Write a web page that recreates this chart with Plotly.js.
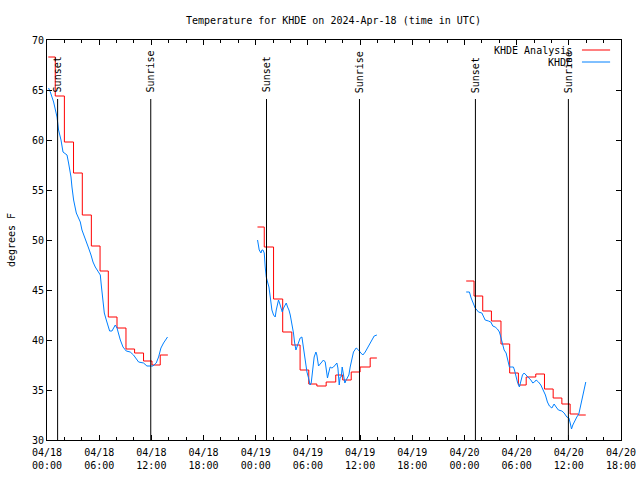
<!DOCTYPE html>
<html>
<head>
<meta charset="utf-8">
<script src="https://cdn.plot.ly/plotly-3.0.1.min.js"></script>
<style>
  html, body { margin: 0; padding: 0; background: #fff; }
  #chart { width: 640px; height: 480px; }
</style>
</head>
<body>
<div id="chart"></div>
<script>
// Hours after 2024-04-18 00:00 UTC
const analysisHours = [
  0.15, 0.95, 2.0, 3.05, 4.06, 5.1, 6.1, 7.05, 8.05, 9.08, 10.07, 11.1, 12.07, 13.02, 13.9,
  19,
  24.2, 24.98, 26.05, 27.1, 28.15, 29.1, 30.1, 31.03, 32.1, 33.2, 34.0, 34.98, 36.0, 37.16, 37.93,
  43,
  48.2, 49.1, 50.1, 51.1, 52.2, 53.2, 54.2, 55.1, 56.2, 57.2, 58.2, 59.2, 60.15, 61.1, 61.95
];
const analysisTemps = [
  68.3, 64.4, 59.8, 56.7, 52.5, 49.4, 46.9, 42.3, 41.2, 39.1, 38.7, 37.9, 37.5, 38.5, 38.5,
  null,
  51.3, 49.3, 44.1, 40.8, 39.5, 37.0, 35.6, 35.4, 35.8, 36.5, 36.0, 36.8, 37.3, 38.2, 38.2,
  null,
  45.9, 44.4, 42.9, 41.9, 39.6, 36.7, 35.5, 36.3, 36.6, 35.1, 34.2, 33.6, 32.6, 32.5, 32.5
];

const obsHours = [
  0.18, 0.38, 0.76, 1.15, 1.33, 1.61, 1.84, 2.30, 2.48, 2.76, 2.87, 3.06, 3.37, 3.83, 4.02,
  4.32, 4.78, 5.06, 5.29, 5.55, 5.93, 6.13, 6.24, 6.36, 6.44, 6.59, 6.82, 7.09, 7.20, 7.47,
  7.85, 8.05, 8.23, 8.43, 8.74, 9.11, 9.57, 9.95, 10.53, 11.10, 11.49, 12.18, 12.56, 12.83,
  13.10, 13.40, 13.86,
  19,
  24.21, 24.40, 24.60, 24.71, 24.83, 24.98, 25.09, 25.21, 25.36, 25.52, 25.67, 25.86, 26.05,
  26.24, 26.36, 26.51, 26.62, 26.74, 26.90, 27.05, 27.20, 27.36, 27.51, 27.66, 27.82, 27.97,
  28.16, 28.34, 28.46, 28.62, 28.74, 28.92, 29.11, 29.31, 29.49, 29.69, 29.89, 30.07, 30.26,
  30.38, 30.53, 30.72, 30.92, 31.03, 31.22, 31.49, 31.79, 31.99, 32.10, 32.25, 32.41, 32.56,
  32.76, 32.94, 33.14, 33.33, 33.45, 33.60, 33.71, 33.83, 33.94, 34.09, 34.25, 34.40, 34.55,
  34.71, 34.86, 35.06, 35.24, 35.55, 35.82, 36.09, 36.32, 36.59, 36.85, 37.08, 37.36, 37.62,
  37.93,
  43,
  48.20, 48.57, 48.77, 48.97, 49.23, 49.43, 49.61, 50.00, 50.18, 50.38, 50.76, 51.03, 51.26,
  51.53, 51.79, 52.02, 52.18, 52.41, 52.56, 52.79, 52.94, 53.17, 53.45, 53.63, 53.75, 53.91,
  54.09, 54.32, 54.48, 54.67, 54.86, 55.09, 55.36, 55.63, 55.86, 56.05, 56.24, 56.51, 56.78,
  57.08, 57.31, 57.54, 57.77, 58.05, 58.31, 58.54, 58.80, 59.20, 59.46, 59.77, 60.01, 60.16,
  60.31, 60.46, 60.69, 60.92, 61.15, 61.38, 61.61, 61.79, 61.95
];
const obsTemps = [
  65.2, 64.8, 63.8, 62.3, 61.0, 60.0, 58.8, 58.5, 57.7, 56.3, 55.3, 54.0, 52.7, 51.8, 51.0,
  50.2, 49.2, 48.5, 47.8, 47.3, 46.8, 46.5, 45.5, 44.5, 43.3, 42.7, 42.0, 41.3, 40.9, 40.9,
  41.5, 41.2, 40.5, 40.0, 39.3, 38.9, 38.8, 38.5, 37.8, 37.7, 37.4, 37.4, 37.7, 38.3,
  39.2, 39.7, 40.3,
  null,
  50.0, 49.0, 48.7, 49.0, 49.0, 48.7, 47.3, 46.3, 45.8, 45.3, 44.3, 43.0, 42.5,
  42.3, 43.0, 43.8, 44.0, 43.7, 43.2, 42.8, 43.2, 43.5, 43.7, 43.3, 43.0, 42.5,
  41.7, 40.7, 39.8, 39.0, 39.3, 39.8, 40.2, 40.3, 39.2, 38.0, 36.8, 36.2, 35.5,
  35.7, 37.2, 38.3, 38.8, 38.5, 37.4, 37.7, 38.0, 37.8, 37.2, 36.2, 36.8, 37.3,
  37.2, 37.3, 37.5, 37.7, 37.2, 35.5, 36.3, 36.3, 37.3, 36.3, 35.7, 36.0, 36.2,
  36.5, 37.3, 38.3, 38.8, 39.2, 39.0, 38.7, 38.5, 38.8, 39.2, 39.7, 40.1, 40.4,
  40.5,
  null,
  44.8, 44.8, 44.2, 43.7, 43.2, 43.0, 42.8, 42.7, 42.3, 42.0, 41.9, 41.8, 41.4,
  41.3, 41.1, 40.8, 40.3, 39.5, 39.0, 38.7, 38.0, 37.3, 37.3, 37.3, 37.0, 36.3,
  35.8, 35.3, 36.0, 36.5, 36.7, 36.5, 36.3, 36.0, 35.7, 35.8, 36.0, 35.8, 35.5,
  35.0, 34.5, 33.8, 33.4, 33.2, 33.6, 33.3, 33.0, 32.9, 32.7, 32.3, 32.2, 31.7,
  31.1, 31.5, 32.0, 32.3, 32.6, 33.5, 34.5, 35.3, 35.8
];

const eventHours = [1.22, 11.93, 25.24, 35.93, 49.26, 59.95];
const eventLabels = ['Sunset', 'Sunrise', 'Sunset', 'Sunrise', 'Sunset', 'Sunrise'];

const seriesNames = ['KHDE Analysis', 'KHDE'];
const seriesColors = ['#ff0000', '#0080ff'];

const BASE = Date.UTC(2024, 3, 18, 0, 0, 0);
function toDate(h) {
  return new Date(BASE + h * 3600000).toISOString().replace('Z', '');
}

const FONT = 'DejaVu Sans Mono, monospace';

const traces = [
  {
    x: analysisHours.map(toDate), y: analysisTemps, name: seriesNames[0],
    type: 'scatter', mode: 'lines', line: { color: seriesColors[0], width: 1, shape: 'hv' },
    connectgaps: false, showlegend: false
  },
  {
    x: obsHours.map(toDate), y: obsTemps, name: seriesNames[1],
    type: 'scatter', mode: 'lines', line: { color: seriesColors[1], width: 1 },
    connectgaps: false, showlegend: false
  }
];

const shapes = eventHours.map(h => ({
  type: 'line', xref: 'x', yref: 'paper', x0: toDate(h), x1: toDate(h),
  y0: 0, y1: 0.8525, line: { color: '#000', width: 1 }
}));
const annotations = eventHours.map((h, i) => ({
  x: toDate(h), xref: 'x', y: 0.863, yref: 'paper', yanchor: 'bottom', xanchor: 'center',
  text: eventLabels[i], textangle: -90, showarrow: false,
  font: { family: FONT, size: 10, color: '#000' }
}));

// legend drawn gnuplot style
seriesNames.forEach((n, i) => {
  const yp = (440 - (50 + 12 * i)) / 400;
  annotations.push({
    x: 0.918, xref: 'paper', y: yp, yref: 'paper', xanchor: 'right', yanchor: 'middle',
    text: n, showarrow: false, font: { family: FONT, size: 10, color: '#000' }
  });
  shapes.push({
    type: 'line', xref: 'paper', yref: 'paper', x0: 0.932, x1: 0.981, y0: yp, y1: yp,
    line: { color: seriesColors[i], width: 1 }
  });
});

const layout = {
  width: 640, height: 480,
  margin: { l: 47, r: 19, t: 40, b: 40 },
  paper_bgcolor: '#fff', plot_bgcolor: '#fff',
  font: { family: FONT, size: 10, color: '#000' },
  title: {
    text: 'Temperature for KHDE on 2024-Apr-18 (time in UTC)',
    x: 0.521, xanchor: 'center', y: 0.958, yanchor: 'middle',
    font: { family: FONT, size: 10, color: '#000' }
  },
  xaxis: {
    type: 'date',
    range: [toDate(0), toDate(66)],
    tick0: toDate(0), dtick: 6 * 3600000,
    tickformat: '%m/%d<br>%H:%M',
    ticks: 'inside', ticklen: 5, tickcolor: '#000', tickwidth: 1,
    ticklabelstandoff: 3,
    minor: { dtick: 2 * 3600000, ticks: 'inside', ticklen: 3, tickcolor: '#000', showgrid: false },
    showline: true, linecolor: '#000', linewidth: 1, mirror: 'allticks',
    showgrid: false, zeroline: false,
    tickfont: { family: FONT, size: 10, color: '#000' }
  },
  yaxis: {
    range: [30, 70], dtick: 5, tick0: 30,
    ticks: 'inside', ticklen: 5, tickcolor: '#000', tickwidth: 1,
    showline: true, linecolor: '#000', linewidth: 1, mirror: 'allticks',
    showgrid: false, zeroline: false,
    tickfont: { family: FONT, size: 10, color: '#000' },
    title: { text: 'degrees F', standoff: 14, font: { family: FONT, size: 10, color: '#000' } }
  },
  shapes: shapes,
  annotations: annotations,
  showlegend: false
};

Plotly.newPlot('chart', traces, layout, { staticPlot: true, displayModeBar: false });
</script>
</body>
</html>
